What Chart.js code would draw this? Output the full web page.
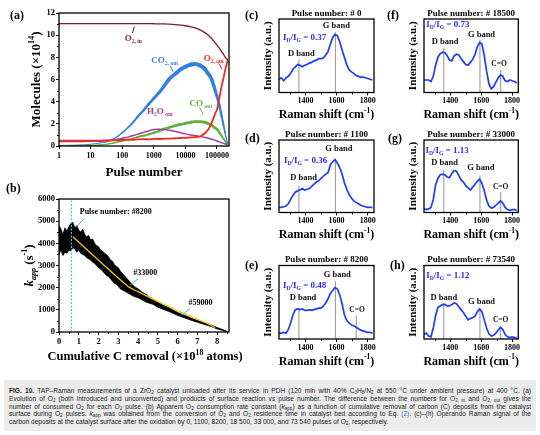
<!DOCTYPE html>
<html><head><meta charset="utf-8">
<script src="https://cdn.jsdelivr.net/npm/chart.js@4.4.0/dist/chart.umd.min.js"></script>
<style>
body{margin:0;background:#fff;width:540px;height:435px;overflow:hidden;position:relative}
canvas{position:absolute}
.pl{position:absolute;font:bold 12px "Liberation Serif",serif;line-height:14px;color:#000}
.cap{position:absolute;left:4px;top:380px;width:532px;height:51px;background:#ececec}
.ln{position:absolute;left:5px;white-space:nowrap;font-family:"Liberation Sans",Arial,sans-serif;font-size:6.6px;line-height:8px;color:#1a1a1a}
.ln sub{font-size:4.6px;vertical-align:-1.3px;line-height:0}
.ln a{color:#2a6fc0}
</style></head><body>
<canvas id="ca" width="240" height="185" style="left:0;top:0;width:240px;height:185px"></canvas>
<canvas id="cb" width="250" height="185" style="left:0;top:185px;width:250px;height:185px"></canvas>
<canvas id="cc" width="130" height="120" style="left:250px;top:0;width:130px;height:120px"></canvas>
<canvas id="cd" width="130" height="125" style="left:250px;top:120px;width:130px;height:125px"></canvas>
<canvas id="ce" width="130" height="125" style="left:250px;top:245px;width:130px;height:125px"></canvas>
<canvas id="cf" width="145" height="120" style="left:395px;top:0;width:145px;height:120px"></canvas>
<canvas id="cg" width="145" height="125" style="left:395px;top:120px;width:145px;height:125px"></canvas>
<canvas id="ch" width="145" height="125" style="left:395px;top:245px;width:145px;height:125px"></canvas>
<div class="pl" style="left:10px;top:8px">(a)</div>
<div class="pl" style="left:6px;top:181px">(b)</div>
<div class="pl" style="left:245px;top:8px">(c)</div>
<div class="pl" style="left:245px;top:131px">(d)</div>
<div class="pl" style="left:245px;top:258px">(e)</div>
<div class="pl" style="left:387px;top:8px">(f)</div>
<div class="pl" style="left:388px;top:131px">(g)</div>
<div class="pl" style="left:390px;top:258px">(h)</div>
<div class="cap">
<div class="ln" style="top:7px"><b>FIG. 10.</b> TAP–Raman measurements of a ZrO<sub>2</sub> catalyst unloaded after its service in PDH (120 min with 40% C<sub>3</sub>H<sub>8</sub>/N<sub>2</sub> at 550 °C under ambient pressure) at 400 °C. (a)</div>
<div class="ln" style="top:14.75px">Evolution of O<sub>2</sub> (both introduced and unconverted) and products of surface reaction vs pulse number. The difference between the numbers for O<sub>2, in</sub> and O<sub>2, out</sub> gives the</div>
<div class="ln" style="top:22.5px">number of consumed O<sub>2</sub> for each O<sub>2</sub> pulse. (b) Apparent O<sub>2</sub> consumption rate constant (<i>k</i><sub>app</sub>) as a function of cumulative removal of carbon (C) deposits from the catalyst</div>
<div class="ln" style="top:30.25px">surface during O<sub>2</sub> pulses. <i>k</i><sub>app</sub> was obtained from the conversion of O<sub>2</sub> and O<sub>2</sub> residence time in catalyst bed according to Eq. <a>(2)</a>. (c)–(h) Operando Raman signal of the</div>
<div class="ln last" style="top:38px">carbon deposits at the catalyst surface after the oxidation by 0, 1100, 8200, 18 500, 33 000, and 73 540 pulses of O<sub>2</sub>, respectively.</div>
</div>
<script>
// ---------- Panel (a) data ----------
const pulses = [1,2,5,10,20,30,50,70,100,150,200,300,500,700,1000,1500,2000,3000,5000,7000,10000,15000,20000,30000,40000,50000,60000,70000,80000,90000,100000,120000,140000,160000,180000,200000,220000];
const o2In   = [11.05,11.05,11.05,11.05,11.05,11.05,11.05,11.05,11.05,11.05,11.05,11.05,11.04,11.04,11.03,11.02,11.01,10.99,10.95,10.91,10.85,10.75,10.65,10.45,10.25,10.05,9.85,9.65,9.45,9.27,9.1,8.8,8.5,8.28,8.05,7.87,7.75];
const o2Out  = [0.42,0.42,0.43,0.44,0.45,0.47,0.5,0.53,0.55,0.58,0.56,0.6,0.62,0.6,0.64,0.63,0.65,0.67,0.7,0.72,0.74,0.78,0.8,0.88,1.1,1.4,1.75,2.2,2.6,3.0,3.3,4.4,5.4,6.1,6.8,7.3,7.75];
const co2Out = [0.05,0.06,0.1,0.15,0.27,0.36,0.6,0.85,1.2,1.65,2.0,2.6,3.3,3.8,4.3,4.85,5.3,6.0,6.55,6.9,7.15,7.35,7.4,7.25,7.0,6.6,6.3,5.9,5.4,4.9,4.5,3.6,2.7,1.9,1.2,0.6,0.3];
const h2oOut = [0.5,0.5,0.5,0.5,0.5,0.52,0.55,0.6,0.7,0.8,0.9,1.05,1.25,1.38,1.48,1.52,1.5,1.42,1.3,1.2,1.1,1.0,0.95,0.85,0.78,0.72,0.66,0.6,0.55,0.5,0.45,0.37,0.3,0.24,0.2,0.15,0.12];
const coOut  = [0.02,0.02,0.03,0.05,0.1,0.15,0.25,0.35,0.45,0.55,0.65,0.8,0.95,1.05,1.2,1.35,1.5,1.65,1.85,1.95,2.05,2.15,2.2,2.2,2.15,2.05,1.95,1.85,1.7,1.6,1.5,1.2,0.9,0.65,0.45,0.3,0.2];
const pulseTicks = [1,10,100,1000,10000,100000];
const moleculeTicks = [0,2,4,6,8,10,12];

// ---------- Panel (b) data ----------
const cRemoval = [0,0.1,0.2,0.3,0.4,0.5,0.6,0.7,0.8,0.9,1.0,1.1,1.2,1.3,1.4,1.5,1.6,1.7,1.8,1.9,2.0,2.1,2.2,2.3,2.4,2.5,2.6,2.7,2.8,2.9,3.0,3.1,3.2,3.3,3.4,3.5,3.6,3.7,3.8,3.9,4.0,4.1,4.2,4.3,4.4,4.5,4.75,5.0,5.25,5.5,5.75,6.0,6.25,6.5,6.75,7.0,7.25,7.5,7.75,8.0,8.25,8.5];
const kappUpper = [4800,4650,4400,4700,4550,4750,4900,4950,4700,4800,4600,4500,4650,4400,4300,4350,4150,4200,4000,3900,3850,3700,3650,3550,3500,3400,3250,3200,3050,2950,2900,2750,2650,2550,2450,2350,2250,2150,2050,2000,1950,1880,1800,1750,1700,1620,1480,1330,1220,1120,1000,880,790,700,610,530,450,380,300,200,120,30];
const kappLower = [3500,3700,3450,3600,3550,3700,3650,3800,3750,3600,3700,3550,3500,3450,3350,3300,3250,3150,3100,3000,2900,2850,2750,2650,2550,2500,2400,2300,2200,2150,2050,1950,1900,1850,1800,1750,1700,1650,1600,1580,1550,1500,1450,1400,1350,1320,1250,1120,1030,950,850,750,670,590,510,440,370,300,230,140,80,0];
const fitX = [0.7,3.5,4.0,4.6,5.0,5.5,6.0,6.5,7.0,7.5,7.9];
const fitY = [4300,2050,1820,1550,1380,1170,960,760,570,390,200];
const removalTicks = [0,1,2,3,4,5,6,7,8];
const kappTicks = [0,1000,2000,3000,4000,5000,6000];
const removalAt8200 = 0.63;

// ---------- Raman data ----------
const ramanX = [1230,1245,1260,1275,1290,1305,1320,1335,1350,1365,1380,1395,1410,1425,1440,1455,1470,1485,1500,1515,1530,1545,1560,1575,1590,1605,1620,1635,1650,1665,1680,1695,1710,1725,1740,1755,1770,1785,1800,1815,1830];
const spec0     = [0.18,0.20,0.16,0.20,0.22,0.26,0.32,0.35,0.38,0.37,0.35,0.37,0.38,0.40,0.41,0.43,0.44,0.46,0.46,0.47,0.51,0.56,0.66,0.75,0.79,0.77,0.69,0.58,0.48,0.38,0.31,0.28,0.26,0.23,0.22,0.21,0.21,0.20,0.19,0.18,0.17];
const spec1100  = [0.07,0.07,0.08,0.09,0.12,0.18,0.24,0.28,0.30,0.31,0.33,0.31,0.32,0.33,0.36,0.39,0.42,0.44,0.47,0.50,0.53,0.55,0.66,0.70,0.73,0.68,0.62,0.53,0.41,0.32,0.25,0.20,0.16,0.14,0.12,0.10,0.09,0.08,0.07,0.07,0.07];
const spec8200  = [0.08,0.08,0.09,0.08,0.13,0.22,0.33,0.40,0.41,0.40,0.41,0.39,0.39,0.40,0.39,0.40,0.41,0.42,0.42,0.45,0.49,0.55,0.62,0.66,0.70,0.68,0.60,0.48,0.33,0.25,0.22,0.19,0.18,0.16,0.14,0.12,0.11,0.10,0.09,0.09,0.08];
const spec18500 = [0.17,0.17,0.17,0.15,0.22,0.37,0.48,0.53,0.55,0.54,0.50,0.44,0.43,0.50,0.52,0.51,0.46,0.42,0.38,0.37,0.41,0.45,0.52,0.62,0.68,0.66,0.50,0.29,0.12,0.05,0.08,0.14,0.20,0.24,0.22,0.16,0.15,0.17,0.16,0.15,0.13];
const spec33000 = [0.05,0.04,0.05,0.07,0.18,0.38,0.47,0.52,0.53,0.52,0.49,0.48,0.54,0.58,0.57,0.51,0.45,0.42,0.37,0.34,0.31,0.35,0.39,0.43,0.46,0.40,0.30,0.17,0.09,0.06,0.07,0.10,0.13,0.16,0.13,0.07,0.04,0.03,0.04,0.04,0.03];
const spec73540 = [0.06,0.08,0.04,0.03,0.15,0.32,0.43,0.45,0.47,0.47,0.45,0.45,0.47,0.49,0.48,0.44,0.40,0.36,0.31,0.26,0.28,0.29,0.31,0.37,0.41,0.37,0.26,0.15,0.07,0.04,0.05,0.08,0.12,0.16,0.13,0.06,0.03,0.02,0.03,0.02,0.02];
const ramanTicks = [1400,1600,1800];
const bandD = 1358, bandG = 1592, bandCO = 1726;
const ratios = ['0.37','0.36','0.48','0.73','1.13','1.12'];
const pulseLabels = ['# 0','# 1100','# 8200','# 18500','# 33000','# 73540'];

// ---------- helpers ----------
const FAM = '"Liberation Serif","Times New Roman",serif';
function fnt(s,it){return (it?'italic ':'')+'bold '+s+'px '+FAM;}
function parseRich(str){
  const out=[];let i=0,it=false,buf='';
  while(i<str.length){const c=str[i];
    if((c==='_'||c==='^')&&str[i+1]==='{'){ if(buf)out.push({t:buf,m:'n',it});buf='';const j=str.indexOf('}',i);out.push({t:str.slice(i+2,j),m:c==='_'?'sub':'sup',it});i=j+1;continue;}
    if(c==='*'){ if(buf)out.push({t:buf,m:'n',it});buf='';it=!it;i++;continue;}
    buf+=c;i++;}
  if(buf)out.push({t:buf,m:'n',it});return out;}
function drawRich(ctx,str,x,y,size,color,align,rot,subR){
  const r=subR||0.62;const segs=parseRich(str);
  ctx.save();ctx.translate(x,y);if(rot)ctx.rotate(-Math.PI/2);
  ctx.fillStyle=color;ctx.textBaseline='middle';ctx.textAlign='left';
  let w=0;for(const s of segs){s.sz=s.m==='n'?size:size*r;ctx.font=fnt(s.sz,s.it);s.w=ctx.measureText(s.t).width;w+=s.w;}
  let cx=align==='center'?-w/2:align==='right'?-w:0;
  for(const s of segs){ctx.font=fnt(s.sz,s.it);const dy=s.m==='sub'?size*0.32:s.m==='sup'?-size*0.36:0;ctx.fillText(s.t,cx,dy);cx+=s.w;}
  ctx.restore();}
const DECO={};
function px(ch,v){return ch.scales.x.getPixelForValue(v);}
function py(ch,v){return ch.scales.y.getPixelForValue(v);}
function drawSegs(ch,arr){const c=ch.ctx;for(const l of arr){c.save();c.strokeStyle=l.color||'#000';c.lineWidth=l.width||1;c.setLineDash(l.dash||[]);c.beginPath();c.moveTo(px(ch,l.x1),py(ch,l.y1));c.lineTo(px(ch,l.x2),py(ch,l.y2));c.stroke();c.restore();}}
const decoPlugin={id:'deco',
  beforeDatasetsDraw(ch){const d=DECO[ch.canvas.id];if(d&&d.under)drawSegs(ch,d.under);},
  afterDatasetsDraw(ch){const d=DECO[ch.canvas.id];if(!d)return;const c=ch.ctx,a=ch.chartArea;
    if(d.over)drawSegs(ch,d.over);
    c.save();c.strokeStyle='#000';c.lineWidth=1.3;c.strokeRect(a.left,a.top,a.right-a.left,a.bottom-a.top);
    c.lineWidth=1;c.beginPath();
    (d.minorX||[]).forEach(v=>{const x=Math.round(px(ch,v))+0.5;c.moveTo(x,a.bottom);c.lineTo(x,a.bottom+2);});
    (d.minorY||[]).forEach(v=>{const y=Math.round(py(ch,v))+0.5;c.moveTo(a.left,y);c.lineTo(a.left-2,y);});
    c.stroke();c.restore();},
  afterDraw(ch){const d=DECO[ch.canvas.id];if(!d)return;const c=ch.ctx,a=ch.chartArea;
    if(d.title)drawRich(c,d.title.str,(a.left+a.right)/2,a.top-d.title.off,d.title.size,'#000','center');
    if(d.xTitle)drawRich(c,d.xTitle.str,(a.left+a.right)/2+(d.xTitle.dx||0),a.bottom+d.xTitle.off,d.xTitle.size,'#000','center');
    if(d.yTitle)drawRich(c,d.yTitle.str,a.left-d.yTitle.off,(a.top+a.bottom)/2,d.yTitle.size,'#000','center',true);
    (d.texts||[]).forEach(t=>drawRich(c,t.str,px(ch,t.x),py(ch,t.y),t.size,t.color||'#000',t.align||'left',false,t.sub));}
};
function tickFont(s){return {family:FAM,size:s,weight:'bold'};}
function gridOut(){return {drawOnChartArea:false,drawTicks:true,tickLength:3,color:'#000',lineWidth:1};}
function baseOpts(padTop,padRight){return {responsive:false,animation:false,devicePixelRatio:1,
  layout:{padding:{top:padTop,right:padRight,left:0,bottom:0}},
  plugins:{legend:{display:false},tooltip:{enabled:false}},
  elements:{point:{radius:0}}};}
const pts=(xs,ys)=>xs.map((x,i)=>({x,y:ys[i]}));
const plain=v=>String(v);

// ---------- Panel (a) ----------
DECO.ca={
  yTitle:{str:'Molecules (×10^{14})',off:22,size:13},
  xTitle:{str:'Pulse number',off:27,size:13},
  minorY:[1,3,5,7,9,11],
  texts:[
    {x:120,y:9.64,str:'O_{2, in}',size:9,color:'#7a1e2c',sub:0.62},
    {x:835,y:7.7,str:'CO_{2, out}',size:9,color:'#2f80e2',sub:0.62},
    {x:37800,y:7.89,str:'O_{2, out}',size:9,color:'#ee2a1c',sub:0.62},
    {x:610,y:3.08,str:'H_{2}O_{ out}',size:9,color:'#a33ba6',sub:0.62},
    {x:13600,y:3.84,str:'CO_{ out}',size:9,color:'#5fb040',sub:0.62}],
  over:[
    {x1:210,y1:10.18,x2:245,y2:10.79,color:'#7a1e2c',width:1},
    {x1:3330,y1:7.25,x2:4060,y2:6.71,color:'#2f80e2',width:1},
    {x1:113000,y1:7.46,x2:144000,y2:6.92,color:'#ee2a1c',width:1},
    {x1:28000,y1:3.47,x2:36000,y2:2.93,color:'#5fb040',width:1}]
};
new Chart(document.getElementById('ca'),{type:'line',
  data:{datasets:[
    {data:pts(pulses,o2Out),borderColor:'#ee2a1c',borderWidth:1.8,cubicInterpolationMode:'monotone'},
    {data:pts(pulses,h2oOut),borderColor:'#a33ba6',borderWidth:1.5,cubicInterpolationMode:'monotone'},
    {data:pts(pulses,coOut),borderColor:'#5fb040',borderWidth:2,cubicInterpolationMode:'monotone',borderCapStyle:'round',
      segment:{borderWidth:c=>1.2+0.8*Math.max(c.p0.parsed.y,c.p1.parsed.y)}},
    {data:pts(pulses,co2Out),borderColor:'#2f80e2',borderWidth:2,cubicInterpolationMode:'monotone',borderCapStyle:'round',
      segment:{borderWidth:c=>0.9+0.42*Math.max(c.p0.parsed.y,c.p1.parsed.y)}},
    {data:pts(pulses,o2In),borderColor:'#7a1e2c',borderWidth:1.3,cubicInterpolationMode:'monotone'}]},
  options:Object.assign(baseOpts(13,11),{scales:{
    x:{type:'logarithmic',min:1,max:240000,afterBuildTicks:s=>{s.ticks=pulseTicks.map(v=>({value:v}));},
       ticks:{callback:plain,font:tickFont(8),color:'#000',padding:2,maxRotation:0,autoSkip:false},
       grid:gridOut(),border:{display:false},afterFit:s=>{s.height=39;}},
    y:{type:'linear',min:0,max:12,afterBuildTicks:s=>{s.ticks=moleculeTicks.map(v=>({value:v}));},
       ticks:{callback:plain,font:tickFont(8.5),color:'#000',padding:1},grid:gridOut(),border:{display:false},afterFit:s=>{s.width=59;}}}}),
  plugins:[decoPlugin]});

// ---------- Panel (b) ----------
DECO.cb={
  yTitle:{str:'*k_{app}* (s^{-1})',off:29,size:13},
  xTitle:{str:'Cumulative C removal (×10^{18} atoms)',off:25,size:12.5,dx:1},
  minorX:[0.5,1.5,2.5,3.5,4.5,5.5,6.5,7.5,8.5],
  minorY:[500,1500,2500,3500,4500,5500],
  texts:[
    {x:1.05,y:5424,str:'Pulse number: #8200',size:8},
    {x:3.76,y:2667,str:'#33000',size:8},
    {x:6.55,y:1311,str:'#59000',size:8}],
  over:[
    {x1:removalAt8200,y1:0,x2:removalAt8200,y2:6000,color:'#4fc0f2',width:1.2,dash:[2,1.5]},
    {x1:0.88,y1:4746,x2:1.25,y2:5085,color:'#3fb2ea',width:1},
    {x1:3.59,y1:2111,x2:4.01,y2:2405,color:'#3fb2ea',width:1},
    {x1:6.21,y1:755,x2:6.63,y2:1058,color:'#3fb2ea',width:1}]
};
new Chart(document.getElementById('cb'),{type:'line',
  data:{datasets:[
    {data:pts(fitX,fitY),borderColor:'#f2c21b',borderWidth:1.3,tension:0.3},
    {data:pts(cRemoval,kappUpper),borderColor:'#000',borderWidth:0.8,fill:'+1',backgroundColor:'#000'},
    {data:pts(cRemoval,kappLower),borderColor:'#000',borderWidth:0.8}]},
  options:Object.assign(baseOpts(14,21),{scales:{
    x:{type:'linear',min:0,max:8.6,afterBuildTicks:s=>{s.ticks=removalTicks.map(v=>({value:v}));},
       ticks:{callback:plain,font:tickFont(8.5),color:'#000',padding:2,maxRotation:0,autoSkip:false},
       grid:gridOut(),border:{display:false},afterFit:s=>{s.height=38;}},
    y:{type:'linear',min:0,max:6000,afterBuildTicks:s=>{s.ticks=kappTicks.map(v=>({value:v}));},
       ticks:{callback:plain,font:tickFont(8.5),color:'#000',padding:1},grid:gridOut(),border:{display:false},afterFit:s=>{s.width=59;}}}}),
  plugins:[decoPlugin]});

// ---------- Raman panels ----------
const ramanSeries=[spec0,spec1100,spec8200,spec18500,spec33000,spec73540];
const ramanLayout=[
  {id:'cc',padTop:19,padRight:6,xh:27.5},
  {id:'cd',padTop:20,padRight:6,xh:32.5},
  {id:'ce',padTop:20.5,padRight:6,xh:31},
  {id:'cf',padTop:19,padRight:21.7,xh:27.5},
  {id:'cg',padTop:20,padRight:21.7,xh:32.5},
  {id:'ch',padTop:20.5,padRight:21.7,xh:31}];
// label anchor positions [x (cm-1), y (normalized)]
const ratioPos=[[1256,0.74],[1262,0.72],[1256,0.72],[1245,0.92],[1239,0.85],[1245,0.86]];
const dLabelPos=[[1373,0.53],[1388,0.48],[1384,0.56],[1367,0.69],[1363,0.69],[1358,0.56]];
const gLabelPos=[[1598,0.91],[1615,0.88],[1604,0.88],[1602,0.79],[1598,0.61],[1602,0.50]];
const coLabelPos=[null,null,[1731,0.39],[1716,0.39],[1726,0.35],[1726,0.26]];
const lineTopD=[0.45,0.37,0.42,0.61,0.59,0.48];
const lineTopG=[0.82,0.73,0.79,0.72,0.51,0.41];
const lineTopCO=[null,null,0.32,0.31,0.28,0.16];

ramanLayout.forEach((L,i)=>{
  const texts=[
    {x:ratioPos[i][0],y:ratioPos[i][1],str:'I_{D}/I_{G} = '+ratios[i],size:9,color:'#2b2bf0'},
    {x:dLabelPos[i][0],y:dLabelPos[i][1],str:'D band',size:8.5,color:'#111',align:'center'},
    {x:gLabelPos[i][0],y:gLabelPos[i][1],str:'G band',size:8.5,color:'#111',align:'center'}];
  const under=[
    {x1:bandD,y1:0,x2:bandD,y2:lineTopD[i],color:'#777',width:0.8},
    {x1:bandG,y1:0,x2:bandG,y2:lineTopG[i],color:'#777',width:0.8}];
  if(coLabelPos[i]){texts.push({x:coLabelPos[i][0],y:coLabelPos[i][1],str:'C=O',size:7.5,color:'#111',align:'center'});
    under.push({x1:bandCO,y1:0,x2:bandCO,y2:lineTopCO[i],color:'#777',width:0.8});}
  DECO[L.id]={title:{str:'Pulse number: '+pulseLabels[i],off:5.5,size:9},
    xTitle:{str:'Raman shift (cm^{-1})',off:22.5,size:12},
    yTitle:{str:'Intensity (a.u.)',off:10.5,size:11},
    minorX:[1300,1500,1700],texts,under};
  new Chart(document.getElementById(L.id),{type:'line',
    data:{datasets:[{data:pts(ramanX,ramanSeries[i]),borderColor:'#1f3df2',borderWidth:1.7,tension:0}]},
    options:Object.assign(baseOpts(L.padTop,L.padRight),{scales:{
      x:{type:'linear',min:1230,max:1840,afterBuildTicks:s=>{s.ticks=ramanTicks.map(v=>({value:v}));},
         ticks:{callback:plain,font:tickFont(8),color:'#000',padding:1,maxRotation:0,autoSkip:false},
         grid:gridOut(),border:{display:false},afterFit:s=>{s.height=L.xh;}},
      y:{type:'linear',min:0,max:1,ticks:{display:false},grid:{display:false},border:{display:false},afterFit:s=>{s.width=29;}}}}),
    plugins:[decoPlugin]});
});

// ---------- caption justification ----------
document.querySelectorAll('.ln').forEach(el=>{
  if(el.classList.contains('last'))return;
  const target=522;const w=el.getBoundingClientRect().width;
  const spaces=(el.textContent.match(/ /g)||[]).length;
  if(w<target)el.style.wordSpacing=((target-w)/spaces)+'px';
  else el.style.letterSpacing=((target-w)/el.textContent.length)+'px';
});
</script>
</body></html>
